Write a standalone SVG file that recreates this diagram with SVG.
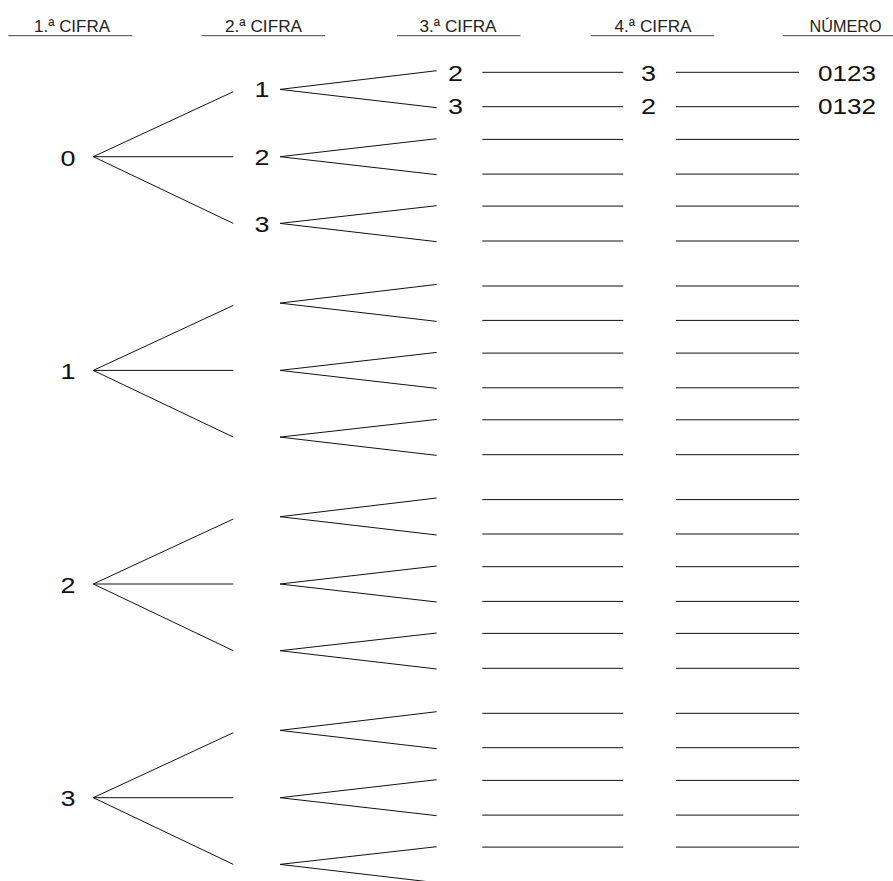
<svg xmlns="http://www.w3.org/2000/svg" width="893" height="881" viewBox="0 0 893 881">
<style>
.hd{font-family:"Liberation Sans",Arial,sans-serif;font-size:17px;fill:#222;text-anchor:middle}
.lb{font-family:"Liberation Sans",Arial,sans-serif;font-size:22px;fill:#111;text-anchor:middle}
.ul{stroke:#444;stroke-width:1;fill:none}
.ln{stroke:#111;stroke-width:1;fill:none}
</style>
<rect width="893" height="881" fill="#fff"/>
<g id="header">
<text class="hd" x="72" y="31.6" textLength="76" lengthAdjust="spacingAndGlyphs">1.ª CIFRA</text>
<text class="hd" x="263.5" y="31.6" textLength="77" lengthAdjust="spacingAndGlyphs">2.ª CIFRA</text>
<text class="hd" x="458" y="31.6" textLength="77" lengthAdjust="spacingAndGlyphs">3.ª CIFRA</text>
<text class="hd" x="653" y="31.6" textLength="77" lengthAdjust="spacingAndGlyphs">4.ª CIFRA</text>
<text class="hd" x="845.5" y="31.6" textLength="72" lengthAdjust="spacingAndGlyphs">NÚMERO</text>
<path class="ul" d="M8.3 35.7H132.3M201.6 35.7H325M397 35.7H520.5M591 35.7H714M783 35.7H893"/>
</g>
<g id="connectors" class="ln">
<!-- block 0 -->
<path d="M93.3 156.7L233.3 91.7M93.3 156.7H233.3M93.3 156.7L233.3 223.4"/>
<path d="M280 89.4L436.7 70.7M280 89.4L436.7 107.7M280 156.7L436.7 138.7M280 156.7L436.7 174.7M280 223.4L436.7 205.7M280 223.4L436.7 241.7"/>
<path d="M482.3 72.3H623.3M482.3 106.7H623.3M482.3 139.4H623.3M482.3 174.1H623.3M482.3 206.1H623.3M482.3 241H623.3"/>
<path d="M676 72.3H799M676 106.7H799M676 139.4H799M676 174.1H799M676 206.1H799M676 241H799"/>
<!-- block 1 -->
<path d="M93.3 370.4L233.3 305.4M93.3 370.4H233.3M93.3 370.4L233.3 437.1"/>
<path d="M280 303.1L436.7 284.4M280 303.1L436.7 321.4M280 370.4L436.7 352.4M280 370.4L436.7 388.4M280 437.1L436.7 419.4M280 437.1L436.7 455.4"/>
<path d="M482.3 286H623.3M482.3 320.4H623.3M482.3 353.1H623.3M482.3 387.8H623.3M482.3 419.8H623.3M482.3 454.7H623.3"/>
<path d="M676 286H799M676 320.4H799M676 353.1H799M676 387.8H799M676 419.8H799M676 454.7H799"/>
<!-- block 2 -->
<path d="M93.3 584L233.3 519M93.3 584H233.3M93.3 584L233.3 650.7"/>
<path d="M280 516.7L436.7 498M280 516.7L436.7 535M280 584L436.7 566M280 584L436.7 602M280 650.7L436.7 633M280 650.7L436.7 669"/>
<path d="M482.3 499.6H623.3M482.3 534H623.3M482.3 566.7H623.3M482.3 601.4H623.3M482.3 633.4H623.3M482.3 668.3H623.3"/>
<path d="M676 499.6H799M676 534H799M676 566.7H799M676 601.4H799M676 633.4H799M676 668.3H799"/>
<!-- block 3 -->
<path d="M93.3 797.7L233.3 732.7M93.3 797.7H233.3M93.3 797.7L233.3 864.4"/>
<path d="M280 730.4L436.7 711.7M280 730.4L436.7 748.7M280 797.7L436.7 779.7M280 797.7L436.7 815.7M280 864.4L436.7 846.7M280 864.4L436.7 882.7"/>
<path d="M482.3 713.3H623.3M482.3 747.7H623.3M482.3 780.4H623.3M482.3 815.1H623.3M482.3 847.1H623.3"/>
<path d="M676 713.3H799M676 747.7H799M676 780.4H799M676 815.1H799M676 847.1H799"/>
</g>
<g id="n-0"><text class="lb" x="68" y="165.7" textLength="15" lengthAdjust="spacingAndGlyphs">0</text></g>
<g id="n-1"><text class="lb" x="68" y="379" textLength="15" lengthAdjust="spacingAndGlyphs">1</text></g>
<g id="n-2"><text class="lb" x="68" y="592.5" textLength="15" lengthAdjust="spacingAndGlyphs">2</text></g>
<g id="n-3"><text class="lb" x="68" y="806.3" textLength="15" lengthAdjust="spacingAndGlyphs">3</text></g>
<g id="n-01"><text class="lb" x="262" y="97" textLength="15" lengthAdjust="spacingAndGlyphs">1</text></g>
<g id="n-02"><text class="lb" x="262" y="164.8" textLength="15" lengthAdjust="spacingAndGlyphs">2</text></g>
<g id="n-03"><text class="lb" x="262" y="231.5" textLength="15" lengthAdjust="spacingAndGlyphs">3</text></g>
<g id="n-012"><text class="lb" x="455.5" y="80.8" textLength="15" lengthAdjust="spacingAndGlyphs">2</text></g>
<g id="n-013"><text class="lb" x="455.5" y="114" textLength="15" lengthAdjust="spacingAndGlyphs">3</text></g>
<g id="n-0123"><text class="lb" x="648.5" y="80.8" textLength="15" lengthAdjust="spacingAndGlyphs">3</text></g>
<g id="n-0132"><text class="lb" x="648.5" y="114" textLength="15" lengthAdjust="spacingAndGlyphs">2</text></g>
<g id="num-0123"><text class="lb" x="847" y="80.8" textLength="58" lengthAdjust="spacingAndGlyphs">0123</text></g>
<g id="num-0132"><text class="lb" x="847" y="114" textLength="58" lengthAdjust="spacingAndGlyphs">0132</text></g>
</svg>
